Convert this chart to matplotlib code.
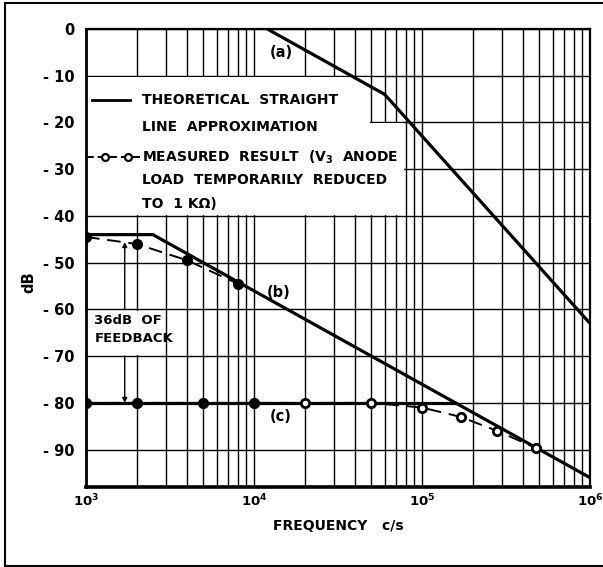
"""
Loop gain / feedback response chart, redrawn from an old printed figure.
"""
import numpy as np
import matplotlib
matplotlib.use('Agg')
import matplotlib.pyplot as plt
from matplotlib.patches import Polygon
from matplotlib.lines import Line2D

plt.rcParams['font.family'] = 'DejaVu Sans'
plt.rcParams['font.weight'] = 'bold'
plt.rcParams['mathtext.fontset'] = 'dejavusans'

# Theoretical straight line approximations
freq_a = [1.2e4, 6e4, 1e6]
db_a = [0, -14, -63]
freq_b = [1e3, 2.5e3, 1e6]
db_b = [-44, -44, -96]
freq_c = [1e3, 1.6e5]
db_c = [-80, -80]

# Measured results
meas_b_freq = [1e3, 2e3, 4e3, 8e3]
meas_b_db = [-44.5, -46, -49.5, -54.5]
meas_c_freq = [1e3, 2e3, 5e3, 1e4, 2e4, 5e4, 1e5, 1.7e5, 2.8e5, 4.8e5]
meas_c_db = [-80, -80, -80, -80, -80, -80, -81, -83, -86, -89.7]
n_filled_c = 4  # first few points print as solid dots

y_ticks = [0, -10, -20, -30, -40, -50, -60, -70, -80, -90]
y_labels = ['0', '- 10', '- 20', '- 30', '- 40', '- 50', '- 60', '- 70', '- 80', '- 90']
x_ticks = [1e3, 1e4, 1e5, 1e6]
x_labels = [r'$\mathbf{10^{3}}$', r'$\mathbf{10^{4}}$', r'$\mathbf{10^{5}}$', r'$\mathbf{10^{6}}$']

fig = plt.figure(figsize=(6.03, 5.67), dpi=100)
ax = fig.add_axes([86 / 603, 1 - 487 / 567, 504 / 603, 458 / 567])
ax.set_xscale('log')
ax.set_xlim(1e3, 1e6)
ax.set_ylim(-98, 0)

# grid drawn by hand so it sits under the white label boxes
for dec in [1e3, 1e4, 1e5]:
    for m in range(1, 10):
        ax.axvline(dec * m, color='black', lw=1.0, zorder=1)
for y in y_ticks:
    ax.axhline(y, color='black', lw=1.0, zorder=1)

# white areas behind the key and the feedback note
key_box = Polygon([(1e3, -10.3), (4.9e4, -10.3), (4.9e4, -20.2), (7.85e4, -20.2),
                   (7.85e4, -39.7), (1e3, -39.7)], closed=True,
                  facecolor='white', edgecolor='none', zorder=2)
ax.add_patch(key_box)
note_box = Polygon([(1e3, -60.3), (2.9e3, -60.3), (2.9e3, -69.7), (1e3, -69.7)],
                   closed=True, facecolor='white', edgecolor='none', zorder=2)
ax.add_patch(note_box)

solid = dict(color='black', lw=2.3, zorder=4, solid_capstyle='butt')
ax.plot(freq_a, db_a, **solid)
ax.plot(freq_b, db_b, **solid)
ax.plot(freq_c, db_c, **solid)

meas = dict(color='black', lw=1.4, ls=(0, (7, 4)), marker='o', ms=6,
            mfc='white', mec='black', mew=2, zorder=5)
ax.plot(meas_b_freq, meas_b_db, **{**meas, 'mfc': 'black'})
ax.plot(meas_c_freq, meas_c_db, **meas)
ax.plot(meas_c_freq[:n_filled_c], meas_c_db[:n_filled_c], ls='none', marker='o',
        ms=6.5, color='black', zorder=6)

ax.text(1.45e4, -5, '(a)', fontsize=10.5, ha='center', va='center', zorder=6)
ax.text(1.4e4, -56.3, '(b)', fontsize=10.5, ha='center', va='center', zorder=6)
ax.text(1.45e4, -83, '(c)', fontsize=10.5, ha='center', va='center', zorder=6)

# key
ax.add_line(Line2D([1.085e3, 1.83e3], [-15.2, -15.2], color='black', lw=2, zorder=6))
ax.add_line(Line2D([1.0e3, 2.1e3], [-27.4, -27.4], color='black', lw=1.4,
                   ls=(0, (4, 2)), zorder=6))
ax.plot([1.3e3, 1.78e3], [-27.4, -27.4], ls='none', marker='o', ms=5,
        mfc='white', mec='black', mew=1.6, zorder=7)
key_kw = dict(fontsize=10, ha='left', va='center', zorder=6)
ax.text(2.15e3, -15.2, 'THEORETICAL  STRAIGHT', **key_kw)
ax.text(2.15e3, -21, 'LINE  APPROXIMATION', **key_kw)
ax.text(2.15e3, -27.4, 'MEASURED  RESULT  (V$_3$  ANODE', **key_kw)
ax.text(2.15e3, -32.3, 'LOAD  TEMPORARILY  REDUCED', **key_kw)
ax.text(2.15e3, -37.5, 'TO  1 K\u03a9)', **key_kw)

# feedback note with arrows
ax.text(1.12e3, -62.3, '36dB  OF', fontsize=9.5, ha='left', va='center', zorder=6)
ax.text(1.12e3, -66.3, 'FEEDBACK', fontsize=9.5, ha='left', va='center', zorder=6)
arrow = dict(arrowstyle='-|>', lw=1, color='black', shrinkA=0, shrinkB=0,
             mutation_scale=7)
ax.annotate('', xy=(1.7e3, -45.6), xytext=(1.7e3, -60), arrowprops=arrow, zorder=6)
ax.annotate('', xy=(1.7e3, -80), xytext=(1.7e3, -70), arrowprops=arrow, zorder=6)

ax.set_yticks(y_ticks)
ax.set_yticklabels(y_labels, fontsize=10.5, fontweight='bold')
ax.set_xticks(x_ticks)
ax.set_xticklabels(x_labels, fontsize=9.5)
ax.minorticks_off()
ax.tick_params(axis='y', length=0, pad=8)
ax.tick_params(axis='x', length=0, pad=4)
ax.set_xlabel('FREQUENCY   c/s', fontsize=10, fontweight='bold', labelpad=7)
fig.text(29 / 603, 1 - 282 / 567, 'dB', rotation=90, fontsize=10.5,
         fontweight='bold', ha='center', va='center')

for side in ['top', 'right']:
    ax.spines[side].set_linewidth(1.6)
ax.spines['left'].set_linewidth(2)
ax.spines['bottom'].set_linewidth(2.6)
for s in ax.spines.values():
    s.set_zorder(8)

# page frame
fig.add_artist(Line2D([5 / 603, 5 / 603], [0.002, 1 - 3 / 567], color='black', lw=1.5))
fig.add_artist(Line2D([5 / 603, 1], [1 - 3 / 567, 1 - 3 / 567], color='black', lw=1.5))
fig.add_artist(Line2D([5 / 603, 1], [1 / 567, 1 / 567], color='black', lw=1.5))

fig.savefig('out.png', dpi=100)
